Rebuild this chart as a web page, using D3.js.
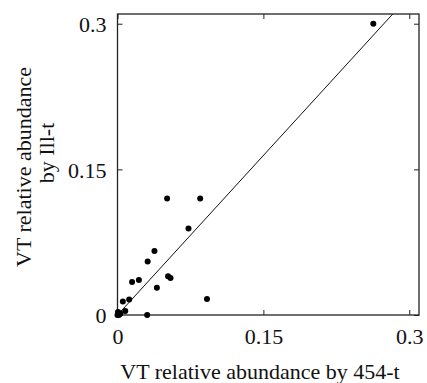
<!DOCTYPE html>
<html><head><meta charset="utf-8">
<script src="https://cdn.jsdelivr.net/npm/d3@7"></script>
<style>body{margin:0;background:#fff}svg{display:block}text{font-family:"Liberation Serif","Times New Roman",serif;fill:#111}</style>
</head><body>
<svg id="c" width="427" height="383"></svg>
<script>
const x454 = [0.263, 0.051, 0.085, 0.073, 0.038, 0.031, 0.015, 0.022, 0.052, 0.0545, 0.0405, 0.092, 0.0055, 0.012, 0.008, 0.0305, 0.0, 0.001, 0.002, 0.0005, 0.003, 0.0015];
const yIll = [0.300, 0.120, 0.120, 0.089, 0.066, 0.055, 0.034, 0.036, 0.040, 0.038, 0.028, 0.0165, 0.014, 0.016, 0.004, 0.0, 0.0, 0.002, 0.001, 0.003, 0.0015, 0.0];
const fitX = [0.0, 0.283];
const fitY = [0.0, 0.31];
const tickVals = [0, 0.15, 0.3];
const tickLabels = ["0", "0.15", "0.3"];
const xTitle = "VT relative abundance by 454-t";
const yTitle = ["VT relative abundance", "by Ill-t"];

const svg = d3.select("#c");
const L = 117.5, R = 419, T = 14, B = 315;
const FS = 22;
const x = d3.scaleLinear().domain([0, 0.31]).range([L, R]);
const y = d3.scaleLinear().domain([0, 0.31]).range([B, T]);
const fmt = d => tickLabels[tickVals.indexOf(d)];

const tk = 5;
svg.append("g").attr("transform", `translate(0,${B})`).call(d3.axisBottom(x).tickValues(tickVals).tickSizeInner(-tk).tickSizeOuter(0).tickFormat(fmt))
  .call(g => { g.select(".domain").remove(); g.selectAll("line").attr("stroke", "#222");
    g.selectAll("text").attr("font-size", FS).attr("dy", null).attr("y", 29).style("font-family", '"Liberation Serif",serif').attr("fill", "#111"); });
svg.append("g").attr("transform", `translate(0,${T})`).call(d3.axisTop(x).tickValues(tickVals).tickSizeInner(-tk).tickSizeOuter(0).tickFormat(""))
  .call(g => { g.select(".domain").remove(); g.selectAll("line").attr("stroke", "#222"); });
svg.append("g").attr("transform", `translate(${L},0)`).call(d3.axisLeft(y).tickValues(tickVals).tickSizeInner(-tk).tickSizeOuter(0).tickFormat(fmt))
  .call(g => { g.select(".domain").remove(); g.selectAll("line").attr("stroke", "#222");
    g.selectAll("text").attr("font-size", FS).attr("x", -11).attr("dy", "0.35em").style("font-family", '"Liberation Serif",serif').attr("fill", "#111"); });
svg.append("g").attr("transform", `translate(${R},0)`).call(d3.axisRight(y).tickValues(tickVals).tickSizeInner(-tk).tickSizeOuter(0).tickFormat(""))
  .call(g => { g.select(".domain").remove(); g.selectAll("line").attr("stroke", "#222"); });

svg.append("rect").attr("x", L).attr("y", T).attr("width", R - L).attr("height", B - T)
  .attr("fill", "none").attr("stroke", "#222").attr("stroke-width", 1.3);

svg.append("line").attr("x1", x(fitX[0])).attr("y1", y(fitY[0])).attr("x2", x(fitX[1])).attr("y2", y(fitY[1]))
  .attr("stroke", "#111").attr("stroke-width", 1);

svg.append("g").selectAll("circle").data(x454.map((v, i) => [v, yIll[i]])).join("circle")
  .attr("cx", d => x(d[0])).attr("cy", d => y(d[1])).attr("r", 3).attr("fill", "#000");

svg.append("text").attr("x", 260).attr("y", 379).attr("text-anchor", "middle").attr("font-size", FS).text(xTitle);
svg.append("text").attr("transform", "translate(31,167) rotate(-90)").attr("text-anchor", "middle").attr("font-size", FS).text(yTitle[0]);
svg.append("text").attr("transform", "translate(54,153) rotate(-90)").attr("text-anchor", "middle").attr("font-size", FS).text(yTitle[1]);
</script>
</body></html>
